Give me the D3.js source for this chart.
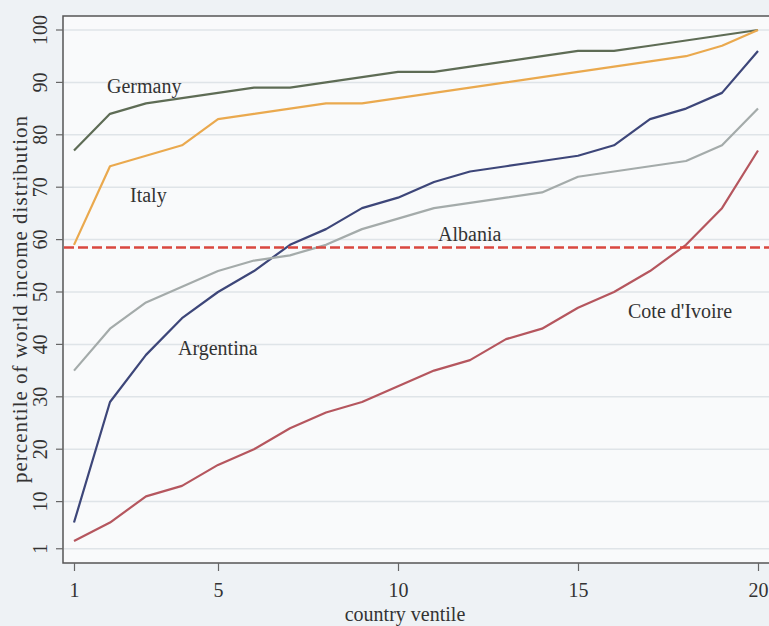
<!DOCTYPE html>
<html>
<head>
<meta charset="utf-8">
<script src="https://cdn.jsdelivr.net/npm/d3@7"></script>
<style>
    body { margin: 0; background: #eef2f5; }
    svg { display: block; font-family: 'Liberation Serif', 'DejaVu Serif', serif; }
    .axis path { display: none; }
    .axis line { stroke: #666; stroke-width: 1.2; }
    .axis text { fill: #333; font-size: 20px; font-family: 'Liberation Serif', serif; }
</style>
</head>
<body>
<div class="chart"></div>
<script>
//Data
const ventiles = d3.range(1, 21);
const germany = [77, 84, 86, 87, 88, 89, 89, 90, 91, 92, 92, 93, 94, 95, 96, 96, 97, 98, 99, 100];
const italy = [59, 74, 76, 78, 83, 84, 85, 86, 86, 87, 88, 89, 90, 91, 92, 93, 94, 95, 97, 100];
const argentina = [6, 29, 38, 45, 50, 54, 59, 62, 66, 68, 71, 73, 74, 75, 76, 78, 83, 85, 88, 96];
const albania = [35, 43, 48, 51, 54, 56, 57, 59, 62, 64, 66, 67, 68, 69, 72, 73, 74, 75, 78, 85];
const coteIvoire = [2.5, 6, 11, 13, 17, 20, 24, 27, 29, 32, 35, 37, 41, 43, 47, 50, 54, 59, 66, 77];
// Albania 整體所在的百分位 (虛線)
const albaniaLevel = 58.5;
const yTicks = [1, 10, 20, 30, 40, 50, 60, 70, 80, 90, 100];
const xTicks = [1, 5, 10, 15, 20];

const series = [
    { name: 'Germany', values: germany, color: '#5e6c55', label: [107, 93] },
    { name: 'Italy', values: italy, color: '#eaa94e', label: [130, 202] },
    { name: 'Argentina', values: argentina, color: '#3d4679', label: [178, 355] },
    { name: 'Albania', values: albania, color: '#a4abaa', label: [438, 241] },
    { name: "Cote d'Ivoire", values: coteIvoire, color: '#b5565e', label: [628, 318] }
];

const svg_width = 769;
const svg_height = 626;
const plot = { left: 63, top: 16, right: 772, bottom: 563 };

const svg = d3.select('.chart').append('svg')
    .attr('width', svg_width).attr('height', svg_height);

//scale
const xScale = d3.scaleLinear([1, 20], [74, 758]);
const yScale = d3.scaleLinear([0, 100], [554, 30]);

//plot background + frame
svg.append('rect')
    .attr('x', plot.left).attr('y', plot.top)
    .attr('width', plot.right - plot.left).attr('height', plot.bottom - plot.top)
    .style('fill', '#f9fafb').style('stroke', '#555').style('stroke-width', 1.5);

//grid lines
svg.append('g').selectAll('line').data(yTicks).join('line')
    .attr('x1', plot.left + 1).attr('x2', svg_width)
    .attr('y1', d => yScale(d)).attr('y2', d => yScale(d))
    .style('stroke', '#dfe4e8').style('stroke-width', 1.5);

//axes
const yAxis = d3.axisLeft(yScale).tickValues(yTicks).tickFormat(d3.format('d'))
    .tickSizeInner(7).tickSizeOuter(0).tickPadding(4);
const yAxisDraw = svg.append('g').attr('class', 'y axis')
    .attr('transform', `translate(${plot.left},0)`).call(yAxis);
// y 軸刻度文字轉 90 度
yAxisDraw.selectAll('.tick').attr('transform', null);
yAxisDraw.selectAll('.tick line')
    .attr('y1', d => yScale(d)).attr('y2', d => yScale(d));
yAxisDraw.selectAll('.tick text')
    .attr('transform', 'rotate(-90)')
    .attr('x', d => -yScale(d)).attr('y', -16).attr('dy', 0)
    .style('text-anchor', 'middle');

const xAxis = d3.axisBottom(xScale).tickValues(xTicks).tickFormat(d3.format('d'))
    .tickSizeInner(8).tickSizeOuter(0).tickPadding(7);
svg.append('g').attr('class', 'x axis')
    .attr('transform', `translate(0,${plot.bottom})`).call(xAxis)
    .selectAll('text').attr('dy', '0.95em');

//axis titles
svg.append('text').text('country ventile')
    .attr('x', 405).attr('y', 621)
    .style('text-anchor', 'middle').style('font-size', '20px').style('fill', '#333');
svg.append('text').text('percentile of world income distribution')
    .attr('transform', 'translate(27,299) rotate(-90)')
    .style('text-anchor', 'middle').style('font-size', '21px')
    .style('letter-spacing', '1px').style('fill', '#333');

//lines
const line = d3.line().x((d, i) => xScale(ventiles[i])).y(d => yScale(d));
svg.append('g').selectAll('path').data(series).join('path')
    .attr('d', d => line(d.values))
    .style('fill', 'none').style('stroke', d => d.color)
    .style('stroke-width', 2.2).style('stroke-linejoin', 'round');

//Albania 虛線
svg.append('line')
    .attr('x1', plot.left + 1).attr('x2', svg_width)
    .attr('y1', yScale(albaniaLevel)).attr('y2', yScale(albaniaLevel))
    .style('stroke', '#d9473f').style('stroke-width', 2.5)
    .style('stroke-dasharray', '10,4');

//country labels
svg.append('g').selectAll('text').data(series).join('text')
    .text(d => d.name)
    .attr('x', d => d.label[0]).attr('y', d => d.label[1])
    .style('font-size', '20px').style('fill', '#333');
</script>
</body>
</html>
